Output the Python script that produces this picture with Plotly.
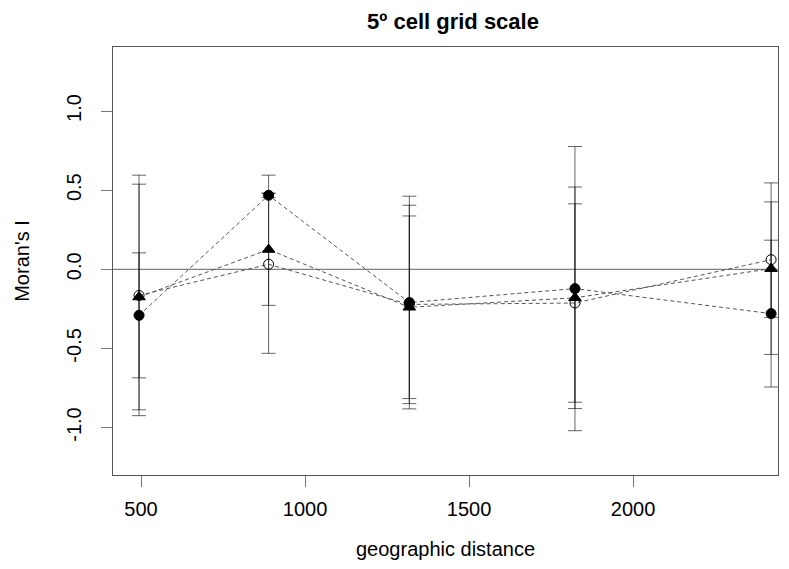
import plotly.graph_objects as go

# Data
distance = [494, 889, 1318, 1823, 2421]

open_circle_I = [-0.165, 0.032, -0.222, -0.213, 0.061]
open_circle_err = [0.760, 0.563, 0.627, 0.627, 0.365]

triangle_I = [-0.175, 0.125, -0.240, -0.180, 0.004]
triangle_err = [0.713, 0.353, 0.577, 0.700, 0.542]

filled_circle_I = [-0.291, 0.468, -0.210, -0.122, -0.280]
filled_circle_err = [0.395, 0.015, 0.672, 0.898, 0.464]

y_tickvals = [-1.0, -0.5, 0.0, 0.5, 1.0]
y_ticktext = ["-1.0", "-0.5", "0.0", "0.5", "1.0"]
x_tickvals = [500, 1000, 1500, 2000]
x_ticktext = ["500", "1000", "1500", "2000"]

series = [
    (open_circle_I, open_circle_err, "circle-open", 10),
    (triangle_I, triangle_err, "triangle-up", 11),
    (filled_circle_I, filled_circle_err, "circle", 10),
]

fig = go.Figure()
for vals, errs, sym, sz in series:
    fig.add_trace(go.Scatter(
        x=distance, y=vals,
        mode="lines+markers",
        line=dict(color="#555555", width=1, dash="4px,3px"),
        marker=dict(symbol=sym, size=sz, color="black",
                    line=dict(color="black", width=1)),
        error_y=dict(type="data", array=errs, symmetric=True,
                     color="rgba(0,0,0,0.6)", thickness=1, width=7),
        showlegend=False,
    ))

fig.add_shape(type="line", xref="paper", yref="y", x0=0, x1=1, y0=0, y1=0,
              line=dict(color="#808080", width=1.2), layer="below")

# The page body adds an 8px margin, so the figure is sized to fit inside it.
W, H = 781, 561
FONT = "Liberation Sans, Arial, sans-serif"
fig.update_layout(
    width=W, height=H,
    margin=dict(l=105, r=11, t=39, b=94),
    paper_bgcolor="white", plot_bgcolor="white",
    font=dict(family=FONT, color="black", size=20),
    title=dict(text="<b>5º cell grid scale</b>", x=445 / W, xanchor="center",
               y=1 - 13 / H, yanchor="middle",
               font=dict(size=22, family=FONT)),
)

fig.update_xaxes(
    range=[414.6, 2442], tickvals=x_tickvals, ticktext=x_ticktext,
    automargin=False,
    showgrid=False, zeroline=False,
    showline=True, mirror=True, linecolor="#555555", linewidth=1,
    ticks="outside", ticklen=11, tickcolor="#777777",
    ticklabelstandoff=5, tickfont=dict(size=20),
    title=dict(text="geographic distance", standoff=22, font=dict(size=20)),
)
fig.update_yaxes(
    range=[-1.30, 1.405], tickvals=y_tickvals, ticktext=y_ticktext,
    tickangle=-90, automargin=False,
    showgrid=False, zeroline=False,
    showline=True, mirror=True, linecolor="#555555", linewidth=1,
    ticks="outside", ticklen=11, tickcolor="#777777",
    ticklabelstandoff=12, tickfont=dict(size=20),
    title=dict(text="Moran's I", standoff=28, font=dict(size=20)),
)

fig.write_html("out.html")
